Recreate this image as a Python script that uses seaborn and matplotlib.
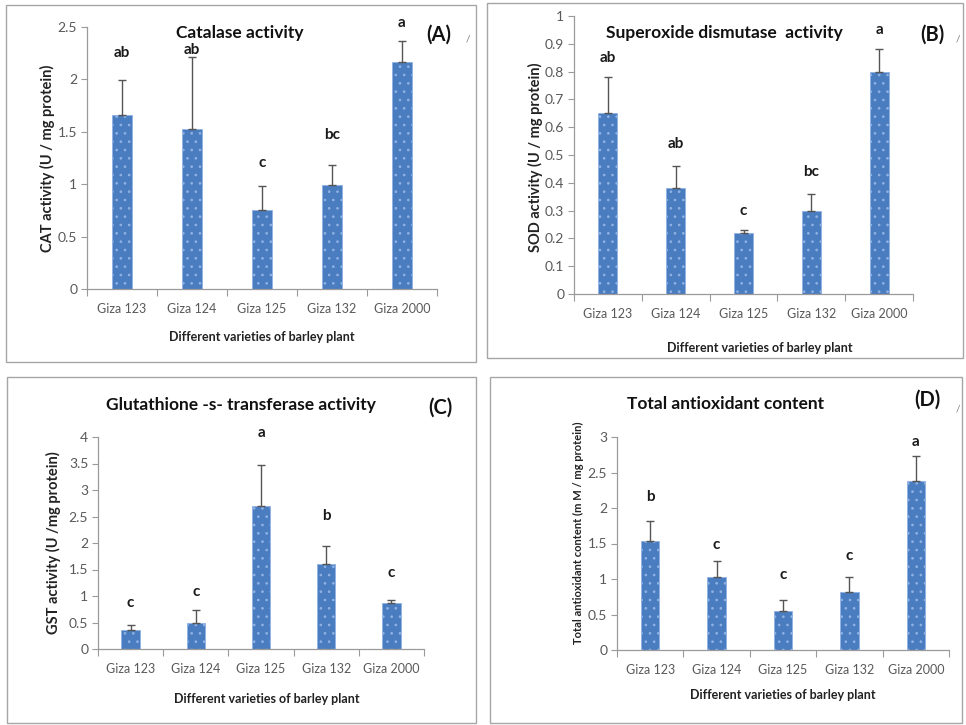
import numpy as np
import pandas as pd
import matplotlib
matplotlib.use("Agg")
import matplotlib.pyplot as plt
import seaborn as sns
from matplotlib.patches import Rectangle
from matplotlib.ticker import FuncFormatter

sns.set_theme(style="white")
plt.rcParams["font.family"] = ["Lato", "DejaVu Sans"]
plt.rcParams["hatch.linewidth"] = 0.7

# ---------------- data ----------------
varieties = ["Giza 123", "Giza 124", "Giza 125", "Giza 132", "Giza 2000"]

cat_mean = [1.66, 1.53, 0.75, 0.99, 2.17]
cat_sd = [0.33, 0.68, 0.23, 0.19, 0.20]
cat_letters = ["ab", "ab", "c", "bc", "a"]
cat_letter_y = [2.25, 2.28, 1.20, 1.47, 2.54]

sod_mean = [0.65, 0.38, 0.22, 0.30, 0.80]
sod_sd = [0.13, 0.08, 0.01, 0.06, 0.08]
sod_letters = ["ab", "ab", "c", "bc", "a"]
sod_letter_y = [0.85, 0.54, 0.30, 0.44, 0.95]

gst_mean = [0.36, 0.50, 2.70, 1.60, 0.87]
gst_sd = [0.09, 0.23, 0.77, 0.35, 0.05]
gst_letters = ["c", "c", "a", "b", "c"]
gst_letter_y = [0.86, 1.08, 4.08, 2.50, 1.43]

tac_mean = [1.53, 1.03, 0.55, 0.81, 2.38]
tac_sd = [0.29, 0.23, 0.16, 0.22, 0.35]
tac_letters = ["b", "c", "c", "c", "a"]
tac_letter_y = [2.15, 1.48, 1.06, 1.32, 2.93]

# ---------------- figure ----------------
W, H = 966, 725
fig = plt.figure(figsize=(W / 100, H / 100), dpi=100)
fig.patch.set_facecolor("white")

BAR = "#4A7CC0"
EDGE = "#8FB2E4"
AXC = "#9A9A9A"
TXT = "#595959"


def fx(x):
    return x / W


def fy(y):
    return 1 - y / H


def px_axes(left, top, right, bottom):
    return fig.add_axes([left / W, 1 - bottom / H, (right - left) / W, (bottom - top) / H])


def box(x1, y1, x2, y2):
    fig.patches.append(Rectangle((fx(x1), fy(y2)), (x2 - x1) / W, (y2 - y1) / H,
                                 transform=fig.transFigure, fill=False,
                                 edgecolor="#A6A6A6", linewidth=1.0))


def draw(ax, means, sds, letters, letter_y, ymax, ystep):
    df = pd.DataFrame({"variety": varieties, "value": means})
    sns.barplot(data=df, x="variety", y="value", ax=ax, color=BAR, saturation=1,
                width=0.28, edgecolor=EDGE, linewidth=0.6, hatch="..", errorbar=None)
    ax.errorbar(np.arange(len(means)), means,
                yerr=[np.zeros(len(means)), sds], fmt="none",
                ecolor="#555555", elinewidth=1.0, capsize=3, capthick=1.0)
    for i, (lab, ly) in enumerate(zip(letters, letter_y)):
        ax.text(i, ly, lab, ha="center", va="center", fontsize=11,
                fontweight="bold", color="#1a1a1a", clip_on=False)
    ax.set_xlim(-0.5, len(means) - 0.5)
    ax.set_ylim(0, ymax)
    ax.set_yticks(np.arange(0, ymax + 1e-9, ystep))
    ax.yaxis.set_major_formatter(FuncFormatter(lambda v, p: f"{round(v, 2):g}"))
    ax.set_xticks(np.arange(-0.5, len(means), 1.0), minor=True)
    ax.set_xlabel("")
    ax.set_ylabel("")
    for s in ["top", "right"]:
        ax.spines[s].set_visible(False)
    for s in ["left", "bottom"]:
        ax.spines[s].set_color(AXC)
        ax.spines[s].set_linewidth(0.9)
    ax.tick_params(axis="y", which="major", left=True, length=4, width=0.8,
                   color=AXC, labelsize=10, labelcolor=TXT, pad=3)
    ax.tick_params(axis="x", which="major", bottom=False, length=0,
                   labelsize=9, labelcolor=TXT, pad=10)
    ax.tick_params(axis="x", which="minor", bottom=True, length=5, width=0.8,
                   color=AXC)
    ax.set_facecolor("none")


# panel frames
box(6, 5, 476, 362)
box(487, 3, 963, 358)
box(7, 377, 476, 723)
box(490, 377, 962, 723)

axA = px_axes(87, 27, 437, 289)
draw(axA, cat_mean, cat_sd, cat_letters, cat_letter_y, 2.5, 0.5)
axB = px_axes(574, 16, 913, 294)
draw(axB, sod_mean, sod_sd, sod_letters, sod_letter_y, 1.0, 0.1)
axC = px_axes(98, 437, 424, 649)
draw(axC, gst_mean, gst_sd, gst_letters, gst_letter_y, 4.0, 0.5)
axD = px_axes(617, 437, 949, 650)
draw(axD, tac_mean, tac_sd, tac_letters, tac_letter_y, 3.0, 0.5)

# titles
tkw = dict(ha="center", va="center", fontsize=12.5, fontweight="bold", color="#111111")
fig.text(fx(240), fy(33), "Catalase activity", **tkw)
fig.text(fx(724), fy(33), "Superoxide dismutase  activity", **tkw)
fig.text(fx(241), fy(405), "Glutathione -s- transferase activity", **tkw)
fig.text(fx(726), fy(404), "Total antioxidant content", **tkw)

# panel tags
pkw = dict(ha="center", va="center", fontsize=14.5, fontweight="bold", color="#111111")
fig.text(fx(439), fy(35), "(A)", **pkw)
fig.text(fx(932), fy(35), "(B)", **pkw)
fig.text(fx(440), fy(408), "(C)", **pkw)
fig.text(fx(927), fy(400), "(D)", **pkw)
skw = dict(ha="center", va="center", fontsize=7, color="#777777")
fig.text(fx(468), fy(39), "/", **skw)
fig.text(fx(958), fy(39), "/", **skw)
fig.text(fx(958), fy(409), "/", **skw)

# x labels
xkw = dict(ha="center", va="center", fontsize=9, fontweight="bold", color="#222222")
fig.text(fx(262), fy(337), "Different varieties of barley plant", **xkw)
fig.text(fx(760), fy(348), "Different varieties of barley plant", **xkw)
fig.text(fx(267), fy(699), "Different varieties of barley plant", **xkw)
fig.text(fx(783), fy(695), "Different varieties of barley plant", **xkw)

# y labels
ykw = dict(ha="center", va="center", rotation=90, fontweight="bold", color="#222222")
fig.text(fx(47), fy(158), "CAT activity (U / mg protein)", fontsize=10.5, **ykw)
fig.text(fx(535), fy(157), "SOD activity (U / mg protein)", fontsize=10.5, **ykw)
fig.text(fx(53), fy(543), "GST activity (U /mg protein)", fontsize=10.5, **ykw)
fig.text(fx(578), fy(533), "Total antioxidant content (m M / mg protein)", fontsize=8, **ykw)

fig.savefig("out.png", dpi=100)
